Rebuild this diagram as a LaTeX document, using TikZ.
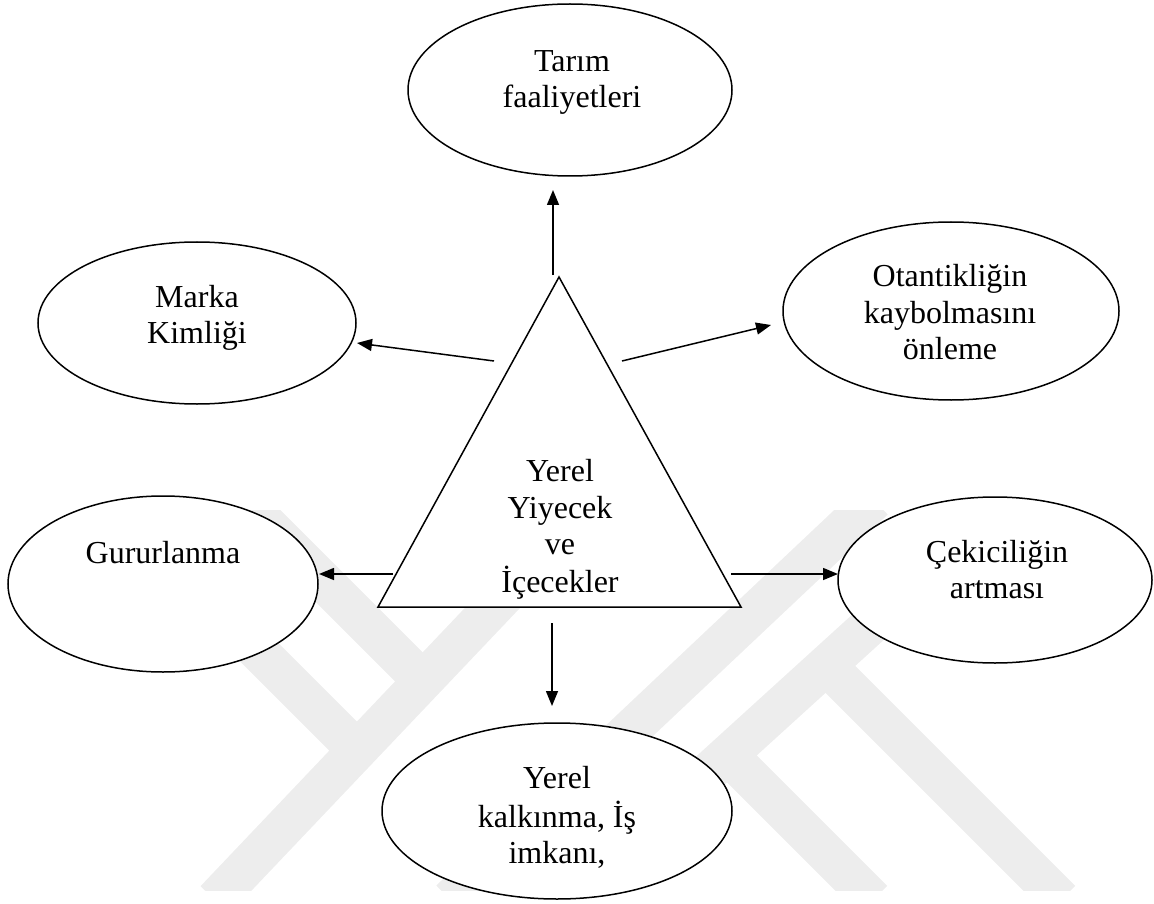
\documentclass[tikz,border=0pt]{standalone}
\usepackage{fontspec}
\setmainfont{Liberation Serif}
\usetikzlibrary{shapes.geometric,arrows.meta}
\definecolor{wmgray}{RGB}{237,237,237}
\tikzset{
  bubble/.style={ellipse, draw, line width=1.5pt, fill=white, inner sep=0pt},
  lbl/.style={font=\fontsize{32}{36.5}\selectfont, align=center, inner sep=0pt},
  link/.style={line width=1.5pt, -{Triangle[length=15pt,width=12pt]}},
  wmband/.style={line width=40pt, draw=wmgray},
}
\begin{document}
\begin{tikzpicture}[x=1pt,y=-1pt]
\useasboundingbox (0,0) rectangle (1154,904);

% faint background emblem
\begin{scope}
  \clip (0,510) rectangle (1154,890);
  \draw[wmband] (215,900) -- (595,500);
  \draw[wmband] (242,500) -- (423,681);
  \draw[wmband] (107,500) -- (357,750);
  \draw[wmband] (874,500) -- (450,900);
  \draw[wmband] (1008,500) -- (568,900);
  \draw[wmband] (826,665) -- (1061,900);
  \draw[wmband] (728,755) -- (873,900);
\end{scope}

% outer bubbles
\node[bubble, minimum width=324pt, minimum height=172pt] (tarim) at (570,90) {};
\node[bubble, minimum width=318pt, minimum height=162pt] (marka) at (197,323) {};
\node[bubble, minimum width=336pt, minimum height=178pt] (otant) at (951,311) {};
\node[bubble, minimum width=310pt, minimum height=176pt] (gurur) at (163,584) {};
\node[bubble, minimum width=314pt, minimum height=166pt] (cekici) at (995,580) {};
\node[bubble, minimum width=350pt, minimum height=176pt] (kalkinma) at (557,811) {};

% central triangle
\coordinate (apex) at (559,277);
\coordinate (baseL) at (378,607);
\coordinate (baseR) at (741,607);
\filldraw[fill=white, line width=1.5pt, line join=miter] (apex) -- (baseL) -- (baseR) -- cycle;

% labels
\node[lbl] (tarimT) at (572,82) {\strut Tarım\\\strut faaliyetleri};
\node[lbl] (markaT) at (197,318) {\strut Marka\\\strut Kimliği};
\node[lbl] (otantT) at (950,316) {\strut Otantikliğin\\\strut kaybolmasını\\\strut önleme};
\node[lbl] (gururT) at (163,556) {\strut Gururlanma};
\node[lbl] (cekiciT) at (997,573) {\strut Çekiciliğin\\\strut artması};
\node[lbl] (kalkinmaT) at (557,819) {\strut Yerel\\\strut kalkınma, İş\\\strut imkanı,};
\node[lbl] (center) at (560,530) {\strut Yerel\\\strut Yiyecek\\\strut ve\\\strut İçecekler};

% arrow ends
\coordinate (upS) at (553,275);   \coordinate (upE) at (553,190);
\coordinate (ulS) at (494,361);   \coordinate (ulE) at (357,343);
\coordinate (urS) at (622,361);   \coordinate (urE) at (771,325);
\coordinate (lS) at (393,574);    \coordinate (lE) at (319,574);
\coordinate (rS) at (731,574);    \coordinate (rE) at (838,574);
\coordinate (dS) at (552,623);    \coordinate (dE) at (552,706);

\draw[link] (upS) -- (upE);
\draw[link] (ulS) -- (ulE);
\draw[link] (urS) -- (urE);
\draw[link] (lS) -- (lE);
\draw[link] (rS) -- (rE);
\draw[link] (dS) -- (dE);
\end{tikzpicture}
\end{document}
